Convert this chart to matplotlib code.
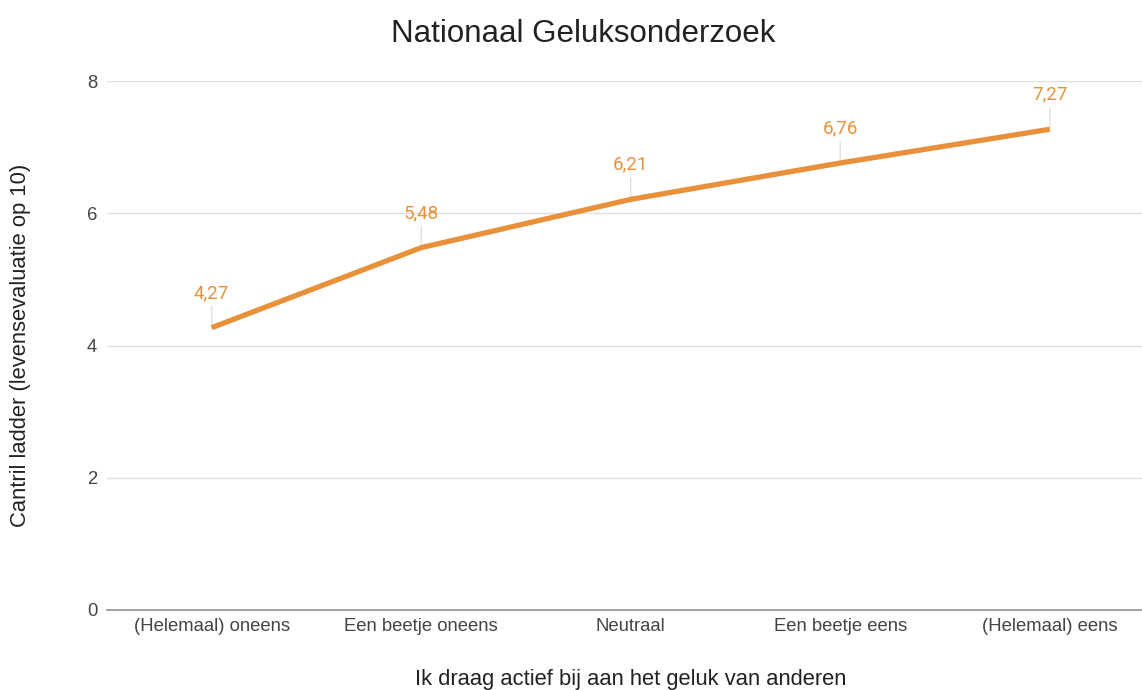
import matplotlib
matplotlib.use("Agg")
import matplotlib.pyplot as plt

categories = ["(Helemaal) oneens", "Een beetje oneens", "Neutraal",
              "Een beetje eens", "(Helemaal) eens"]
scores = [4.27, 5.48, 6.21, 6.76, 7.27]
y_ticks = [0, 2, 4, 6, 8]

orange = "#e8913a"
text_grey = "#444444"

plt.rcParams["font.family"] = ["Liberation Sans", "DejaVu Sans"]

fig = plt.figure(figsize=(11.42, 6.90), dpi=100)
ax = fig.add_axes([107 / 1142, 80 / 690, 1047.5 / 1142, 529 / 690])

x = list(range(len(categories)))
ax.plot(x, scores, color=orange, linewidth=3.8, solid_capstyle="butt", zorder=3)

# data labels with a thin leader line
for xi, v in zip(x, scores):
    ax.annotate(f"{v:.2f}".replace(".", ","), xy=(xi, v), xytext=(0, 25),
                textcoords="offset points", ha="center", va="center",
                color=orange, fontsize=13.5, family=["Roboto", "DejaVu Sans"],
                zorder=2,
                arrowprops=dict(arrowstyle="-", color="#dddddd", lw=0.9,
                                shrinkA=1, shrinkB=0))

ax.set_xlim(-0.5, len(categories) - 0.5)
ax.set_ylim(0, 8)
ax.set_xticks(x)
ax.set_xticklabels(categories)
ax.set_yticks(y_ticks)
ax.tick_params(axis="both", length=0, labelsize=13.3, colors=text_grey)
ax.tick_params(axis="x", pad=6)
ax.tick_params(axis="y", pad=7)

ax.grid(axis="y", color="#e0e0e0", linewidth=1)
ax.set_axisbelow(True)
for side in ["top", "right", "left"]:
    ax.spines[side].set_visible(False)
ax.spines["bottom"].set_color("#999999")
ax.spines["bottom"].set_linewidth(1.3)
ax.spines["bottom"].set_zorder(2)

ax.set_xlabel("Ik draag actief bij aan het geluk van anderen", fontsize=15.8,
              color="#222222", labelpad=24)
ax.set_ylabel("Cantril ladder (levensevaluatie op 10)", fontsize=15.8,
              color="#222222", labelpad=40)

fig.text(583 / 1142, 1 - 34 / 690, "Nationaal Geluksonderzoek", fontsize=22.5,
         color="#222222", ha="center", va="center")

fig.savefig("out.png", dpi=100)
